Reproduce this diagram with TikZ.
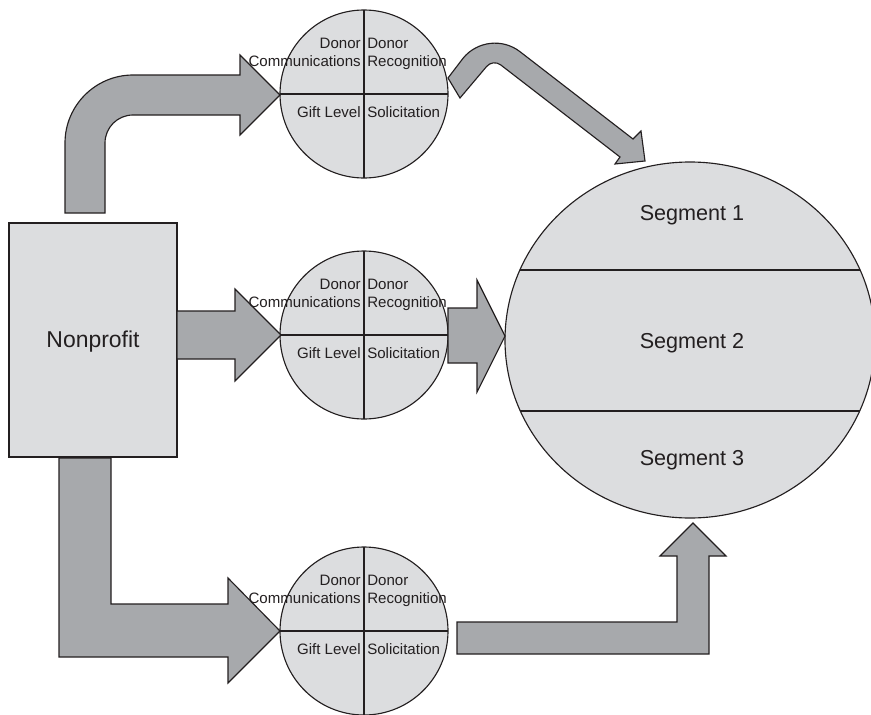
\documentclass[tikz,border=0pt]{standalone}
\usepackage{fontspec}
\setmainfont{Liberation Sans}
\definecolor{inkc}{HTML}{231F20}
\definecolor{platec}{HTML}{DCDDDF}
\definecolor{arrowc}{HTML}{A7A9AC}
\begin{document}
\begin{tikzpicture}[x=0.75pt,y=-0.75pt,
  ink/.style={draw=inkc, line width=0.85pt, line join=miter},
  plate/.style={ink, fill=platec},
  blockarrow/.style={ink, fill=arrowc},
  small/.style={font=\fontsize{11.3}{13}\selectfont, text=inkc, inner sep=0pt},
  big/.style={font=\fontsize{16.2}{19}\selectfont, text=inkc, inner sep=0pt},
  bigger/.style={font=\fontsize{17.2}{20}\selectfont, text=inkc, inner sep=0pt}]
\useasboundingbox (0,0) rectangle (871,714);

% source box
\draw[plate] (9,223) rectangle (177,457);
\node[bigger, anchor=base] (np) at (93,347) {Nonprofit};

% segmented target circle
\draw[plate] (690,340) ellipse [x radius=185, y radius=178];
\begin{scope}
  \clip (690,340) ellipse [x radius=185, y radius=178];
  \draw[ink] (500,270) -- (880,270);
  \draw[ink] (500,411) -- (880,411);
\end{scope}
\node[big, anchor=base] (s1) at (692,220) {Segment 1};
\node[big, anchor=base] (s2) at (692,348) {Segment 2};
\node[big, anchor=base] (s3) at (692,465) {Segment 3};

% four-part program circles
\foreach \cy/\nm in {94/top,335/mid,631/low}{
  \draw[plate] (364,\cy) circle [radius=84];
  \draw[ink] (280,\cy) -- (448,\cy);
  \draw[ink] (364,{\cy-84}) -- (364,{\cy+84});
}

% block arrows
\draw[blockarrow] (65,213) -- (65,143) .. controls (65,105.5) and (95.5,75) .. (133,75)
  -- (240,75) -- (240,55) -- (280,95) -- (240,135) -- (240,115) -- (133,115)
  .. controls (117.5,115) and (105,127.5) .. (105,143) -- (105,213) -- cycle;

\draw[blockarrow] (448,78) -- (463.1,58.2) .. controls (477.0,41.1) and (502.4,38.1) .. (519.9,51.6)
  -- (633,139) -- (641,131) -- (645,161) -- (615,164) -- (620,157)
  -- (500.7,64.9) .. controls (496.3,61.5) and (490.0,62.3) .. (486.5,66.6)
  -- (460,98) -- cycle;

\draw[blockarrow] (177,311) -- (235,311) -- (235,289) -- (281,335) -- (235,381)
  -- (235,359) -- (177,359) -- cycle;

\draw[blockarrow] (448,308) -- (477,308) -- (477,280) -- (505,336) -- (477,392)
  -- (477,363) -- (448,363) -- cycle;

\draw[blockarrow] (59,458) -- (59,657) -- (228,657) -- (228,683) -- (280,631)
  -- (228,578) -- (228,604) -- (111,604) -- (111,458) -- cycle;

\draw[blockarrow] (457,622) -- (677,622) -- (677,556) -- (660,556) -- (693,523)
  -- (726,556) -- (709,556) -- (709,654) -- (457,654) -- cycle;

% quadrant labels
\foreach \cy/\nm in {94/top,335/mid,631/low}{
  \node[small, anchor=base east] (\nm dl) at (361,{\cy-46}) {Donor};
  \node[small, anchor=base west] (\nm dr) at (367,{\cy-46}) {Donor};
  \node[small, anchor=base east] (\nm cl) at (361,{\cy-28}) {Communications};
  \node[small, anchor=base west] (\nm cr) at (367,{\cy-28}) {Recognition};
  \node[small, anchor=base east] (\nm gl) at (361,{\cy+23}) {Gift Level};
  \node[small, anchor=base west] (\nm gr) at (367,{\cy+23}) {Solicitation};
}
\end{tikzpicture}
\end{document}
